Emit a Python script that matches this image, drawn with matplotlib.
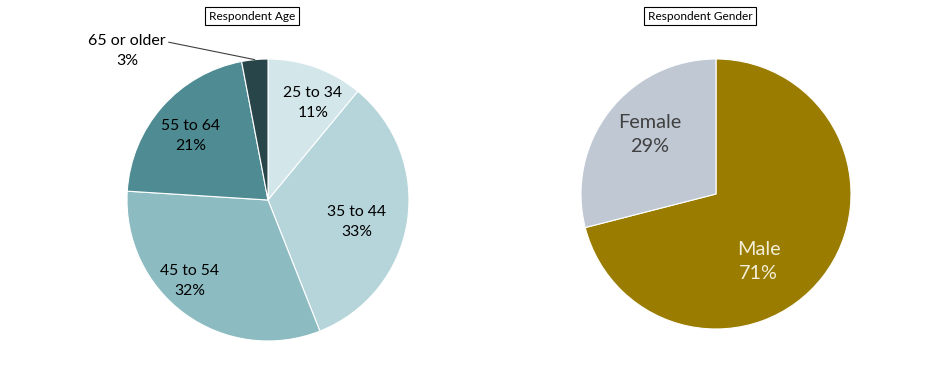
import numpy as np
import matplotlib
matplotlib.use('Agg')
import matplotlib.pyplot as plt

plt.rcParams['font.family'] = ['Lato', 'DejaVu Sans']

# data
age_labels = ['25 to 34', '35 to 44', '45 to 54', '55 to 64', '65 or older']
age_values = [11, 33, 32, 21, 3]
age_colors = ['#d3e6ea', '#b6d5da', '#8cbcc2', '#4e8b93', '#28454a']

gender_labels = ['Male', 'Female']
gender_values = [71, 29]
gender_colors = ['#9a7d00', '#c0c9d3']

W, H = 936, 375
fig = plt.figure(figsize=(W / 100, H / 100), dpi=100, facecolor='white')
ax = fig.add_axes([0, 0, 1, 1])

# left pie: age
c1 = (268, H - 200)
r1 = 141
w1, _ = ax.pie(age_values, colors=age_colors, startangle=90, counterclock=False,
               center=c1, radius=r1, frame=True,
               wedgeprops=dict(edgecolor='white', linewidth=0.8))

# label offsets (angle shift deg, radial fraction)
age_pos = [(-5, 0.76), (-5, 0.65), (-8, 0.80), (2, 0.71)]
for w, lab, val, (da, rf) in zip(w1[:4], age_labels[:4], age_values[:4], age_pos):
    a = np.deg2rad((w.theta1 + w.theta2) / 2 + da)
    ax.text(c1[0] + rf * r1 * np.cos(a), c1[1] + rf * r1 * np.sin(a),
            f'{lab}\n{val}%', ha='center', va='center', fontsize=11.3,
            color='black', linespacing=1.55)

# outside label for the small slice
w = w1[4]
a = np.deg2rad((w.theta1 + w.theta2) / 2)
tip = (c1[0] + r1 * np.cos(a), c1[1] + r1 * np.sin(a))
ax.annotate(f'{age_labels[4]}\n{age_values[4]}%', xy=tip, xytext=(127, H - 51),
            ha='center', va='center', fontsize=11.5, color='black', linespacing=1.5,
            arrowprops=dict(arrowstyle='-', color='#404040', lw=0.8,
                            shrinkA=0, shrinkB=0,
                            relpos=(1.0, 0.78)))

# right pie: gender
c2 = (716, H - 194)
r2 = 135
w2, _ = ax.pie(gender_values, colors=gender_colors, startangle=90, counterclock=False,
               center=c2, radius=r2, frame=True,
               wedgeprops=dict(edgecolor='white', linewidth=0.8))
gender_pos = [(-20, 0.59), (-4, 0.66)]
gender_txt = ['#f3eed8', '#404040']
for w, lab, val, (da, rf), tc in zip(w2, gender_labels, gender_values, gender_pos, gender_txt):
    a = np.deg2rad((w.theta1 + w.theta2) / 2 + da)
    ax.text(c2[0] + rf * r2 * np.cos(a), c2[1] + rf * r2 * np.sin(a),
            f'{lab}\n{val}%', ha='center', va='center', fontsize=14.3,
            color=tc, linespacing=1.45)

ax.set_xlim(0, W)
ax.set_ylim(0, H)
ax.set_aspect('equal')
ax.axis('off')

# titles in boxes
box = dict(boxstyle='square,pad=0.3', facecolor='white', edgecolor='black', linewidth=0.8)
ax.text(252, H - 16, 'Respondent Age', ha='center', va='center', fontsize=8.6, bbox=box)
ax.text(700, H - 16, 'Respondent Gender', ha='center', va='center', fontsize=8.6, bbox=box)

fig.savefig('out.png', dpi=100, facecolor='white')
